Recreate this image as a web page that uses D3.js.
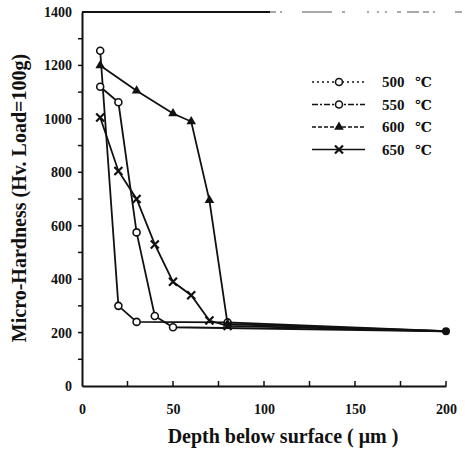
<!DOCTYPE html>
<html>
<head>
<meta charset="utf-8">
<script src="https://cdn.jsdelivr.net/npm/d3@7"></script>
<style>
  body { margin: 0; background: #fff; }
  svg text { font-family: "Liberation Serif", "DejaVu Serif", serif; font-weight: bold; fill: #111; }
</style>
</head>
<body>
<svg id="chart"></svg>
<script>
// depth below surface (um) and hardness per temperature
const depth500 = [10, 20, 30, 80, 200];
const hard500 = [1255, 300, 240, 238, 205];
const depth550 = [10, 20, 30, 40, 50, 200];
const hard550 = [1120, 1062, 575, 262, 220, 205];
const depth600 = [10, 30, 50, 60, 70, 80, 200];
const hard600 = [1200, 1105, 1020, 990, 695, 232, 205];
const depth650 = [10, 20, 30, 40, 50, 60, 70, 80, 200];
const hard650 = [1005, 805, 700, 530, 390, 340, 245, 225, 205];

const seriesNames = ["500", "550", "600", "650"];
const xTicks = [0, 50, 100, 150, 200];
const yTicks = [0, 200, 400, 600, 800, 1000, 1200, 1400];

const width = 465, height = 450;
const margin = { top: 12, right: 19, bottom: 64, left: 82 };

const svg = d3.select("#chart").attr("width", width).attr("height", height);

const x = d3.scaleLinear().domain([0, 200]).range([margin.left, width - margin.right]);
const y = d3.scaleLinear().domain([0, 1400]).range([height - margin.bottom, margin.top]);

const series = [
    { name: seriesNames[0], xs: depth500, ys: hard500, marker: "circle", dash: "2,3" },
    { name: seriesNames[1], xs: depth550, ys: hard550, marker: "circle", dash: "6,2,2,2" },
    { name: seriesNames[2], xs: depth600, ys: hard600, marker: "triangle", dash: "4,2" },
    { name: seriesNames[3], xs: depth650, ys: hard650, marker: "bowtie", dash: null },
];

// axes
const xAxis = d3.axisBottom(x).tickValues(xTicks).tickSize(0).tickPadding(18).tickFormat(d3.format("d"));
const yAxis = d3.axisLeft(y).tickValues(yTicks).tickSize(0).tickPadding(10).tickFormat(d3.format("d"));

svg.append("g")
    .attr("transform", `translate(0, ${y(0)})`)
    .call(xAxis)
    .call(g => g.select(".domain").attr("stroke", "#111").attr("stroke-width", 2))
    .call(g => g.selectAll("text").attr("font-size", 14));

svg.append("g")
    .attr("transform", `translate(${x(0)}, 0)`)
    .call(yAxis)
    .call(g => g.select(".domain").attr("stroke", "#111").attr("stroke-width", 2))
    .call(g => g.selectAll("text").attr("font-size", 14));

// minor inward ticks
svg.append("g").selectAll("line")
    .data(d3.range(25, 201, 25))
    .join("line")
    .attr("x1", d => x(d)).attr("x2", d => x(d))
    .attr("y1", y(0)).attr("y2", y(0) - 5)
    .attr("stroke", "#111").attr("stroke-width", 1.5);

svg.append("g").selectAll("line")
    .data(d3.range(100, 1400, 100))
    .join("line")
    .attr("x1", x(0) - 4).attr("x2", x(0))
    .attr("y1", d => y(d)).attr("y2", d => y(d))
    .attr("stroke", "#111").attr("stroke-width", 1.5);

// top frame line: solid on the left, fading to sparse dashes on the right
svg.append("line")
    .attr("x1", x(0)).attr("x2", 270)
    .attr("y1", y(1400)).attr("y2", y(1400))
    .attr("stroke", "#111").attr("stroke-width", 1.8);
svg.append("line")
    .attr("x1", 270).attr("x2", width - 3)
    .attr("y1", y(1400)).attr("y2", y(1400))
    .attr("stroke", "#555").attr("stroke-width", 1.2)
    .attr("stroke-dasharray", "6,4,2,20,30,10,3,22,2,8,2,6,2,10,4,6,12,4");

// axis titles
svg.append("text")
    .attr("transform", `translate(26, 198) rotate(-90)`)
    .attr("text-anchor", "middle")
    .attr("font-size", 20)
    .text("Micro-Hardness (Hv. Load=100g)");

svg.append("text")
    .attr("x", 283).attr("y", 443)
    .attr("text-anchor", "middle")
    .attr("font-size", 20)
    .text("Depth below surface ( \u03bcm )");

// markers
function drawMarker(g, type, cx, cy) {
    if (type === "circle") {
        g.append("circle").attr("cx", cx).attr("cy", cy).attr("r", 3.5)
            .attr("fill", "#fff").attr("stroke", "#111").attr("stroke-width", 1.6);
    } else if (type === "triangle") {
        g.append("path")
            .attr("d", d3.symbol(d3.symbolTriangle, 40)())
            .attr("transform", `translate(${cx}, ${cy})`)
            .attr("fill", "#111");
    } else {
        g.append("path")
            .attr("d", "M-4,-4L4,4M4,-4L-4,4")
            .attr("transform", `translate(${cx}, ${cy})`)
            .attr("stroke", "#111").attr("stroke-width", 2.2);
    }
}

const line = d3.line().x(d => x(d[0])).y(d => y(d[1]));

const plot = svg.append("g");
series.forEach(s => {
    const pts = s.xs.map((d, i) => [d, s.ys[i]]);
    plot.append("path")
        .datum(pts)
        .attr("d", line)
        .attr("fill", "none")
        .attr("stroke", "#111")
        .attr("stroke-width", 1.8);
});
series.forEach(s => {
    const g = plot.append("g");
    s.xs.forEach((d, i) => {
        if (d === 200) return;
        drawMarker(g, s.marker, x(d), y(s.ys[i]));
    });
});
// common end point
plot.append("circle")
    .attr("cx", x(200)).attr("cy", y(205)).attr("r", 4)
    .attr("fill", "#111");

// legend
const legend = svg.append("g");
series.forEach((s, i) => {
    const ly = 82 + i * 22.5;
    legend.append("line")
        .attr("x1", 312).attr("x2", 365)
        .attr("y1", ly).attr("y2", ly)
        .attr("stroke", "#111").attr("stroke-width", 1.4)
        .attr("stroke-dasharray", s.dash);
    drawMarker(legend, s.marker, 339, ly);
    legend.append("text")
        .attr("x", 382).attr("y", ly + 5)
        .attr("font-size", 15)
        .text(s.name);
    legend.append("text")
        .attr("x", 415).attr("y", ly + 5)
        .attr("font-family", "'Noto Sans CJK SC', 'DejaVu Sans', sans-serif")
        .attr("font-size", 14)
        .text("\u2103");
});
</script>
</body>
</html>
